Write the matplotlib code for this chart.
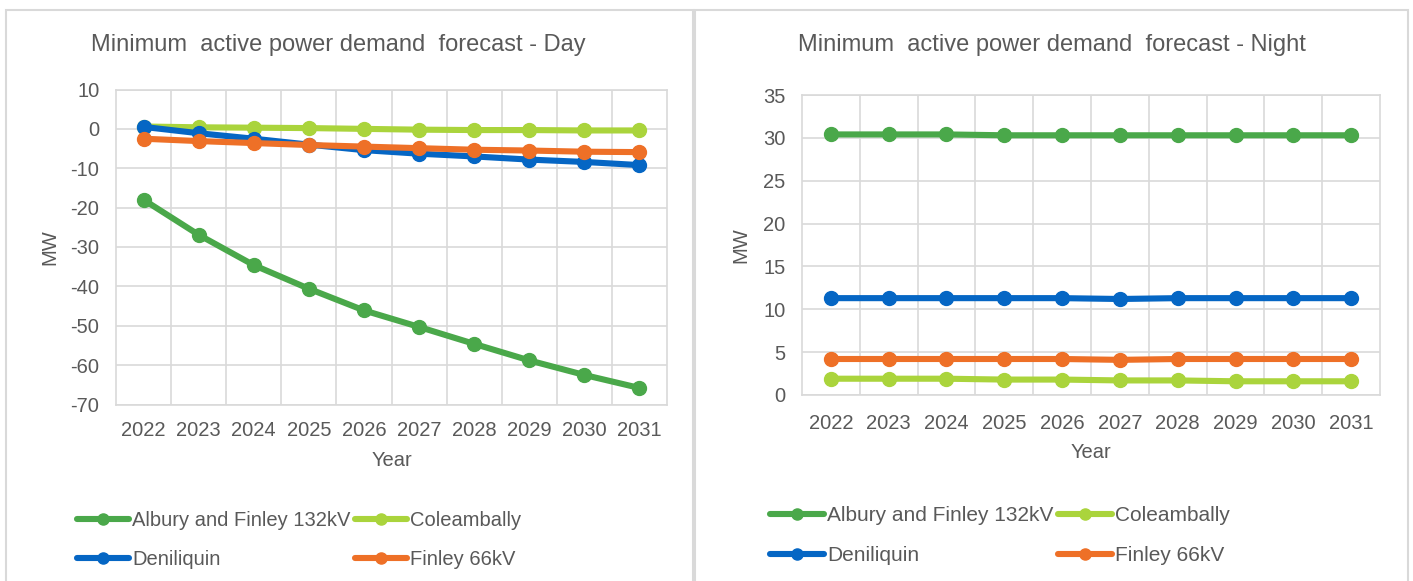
import matplotlib
matplotlib.use('Agg')
import matplotlib.pyplot as plt
from matplotlib.patches import Rectangle

plt.rcParams['font.family'] = ['Liberation Sans', 'DejaVu Sans']
plt.rcParams['axes.unicode_minus'] = False

W, H = 1413, 581
GREY_TEXT = '#595959'
GRID = '#D9D9D9'

years = ['2022', '2023', '2024', '2025', '2026', '2027', '2028', '2029', '2030', '2031']
names = ['Albury and Finley 132kV', 'Coleambally', 'Deniliquin', 'Finley 66kV']
colors = ['#4AA84A', '#AAD43C', '#0566C4', '#EE7027']

# day minimum demand (MW)
day_albury = [-18.0, -26.9, -34.6, -40.6, -46.1, -50.3, -54.6, -58.8, -62.5, -65.8]
day_coleambally = [0.6, 0.4, 0.3, 0.2, 0.0, -0.2, -0.3, -0.3, -0.4, -0.4]
day_deniliquin = [0.5, -1.1, -2.5, -4.0, -5.4, -6.3, -7.0, -7.8, -8.4, -9.2]
day_finley = [-2.5, -3.1, -3.6, -4.1, -4.5, -4.9, -5.3, -5.5, -5.8, -5.9]

# night minimum demand (MW)
night_albury = [30.4, 30.4, 30.4, 30.3, 30.3, 30.3, 30.3, 30.3, 30.3, 30.3]
night_coleambally = [1.9, 1.9, 1.9, 1.8, 1.8, 1.7, 1.7, 1.6, 1.6, 1.6]
night_deniliquin = [11.3, 11.3, 11.3, 11.3, 11.3, 11.2, 11.3, 11.3, 11.3, 11.3]
night_finley = [4.2, 4.2, 4.2, 4.2, 4.2, 4.1, 4.2, 4.2, 4.2, 4.2]


def fx(x):
    return x / W


def fy(y):
    return 1 - y / H


def draw_panel(fig, box, series, ylim, ystep, title, title_xy, mw_x, year_y,
               leg_xy, xpad, leg_size):
    left, top, right, bottom = box
    ax = fig.add_axes([fx(left), fy(bottom), fx(right) - fx(left), fy(top) - fy(bottom)])
    x = list(range(len(years)))
    handles = []
    for vals, name, c in zip(series, names, colors):
        h, = ax.plot(x, vals, color=c, lw=4.4, marker='o', ms=10,
                     solid_capstyle='round', label=name)
        handles.append(h)
    ax.set_xlim(-0.5, len(years) - 0.5)
    ax.set_ylim(*ylim)
    ax.set_yticks(range(ylim[0], ylim[1] + 1, ystep))
    ax.set_xticks(x)
    ax.set_xticklabels(years)
    ax.set_xticks([i + 0.5 for i in x[:-1]], minor=True)
    ax.grid(True, which='major', axis='y', color=GRID, lw=1.2)
    ax.grid(True, which='minor', axis='x', color=GRID, lw=1.2)
    ax.set_axisbelow(True)
    for s in ax.spines.values():
        s.set_color(GRID)
        s.set_linewidth(1.2)
    ax.tick_params(which='both', length=0, labelsize=14.5, colors=GREY_TEXT)
    ax.tick_params(axis='x', pad=xpad)
    ax.tick_params(axis='y', pad=12)

    fig.text(fx(title_xy[0]), fy(title_xy[1]), title, fontsize=17, color=GREY_TEXT,
             ha='center', va='center')
    fig.text(fx(mw_x), fy((top + bottom) / 2), 'MW', fontsize=14.5, color=GREY_TEXT,
             rotation=90, ha='center', va='center')
    fig.text(fx((left + right) / 2), fy(year_y), 'Year', fontsize=14.5, color=GREY_TEXT,
             ha='center', va='center')

    # column-wise fill: first column Albury/Deniliquin, second Coleambally/Finley
    order = [0, 2, 1, 3]
    fig.legend([handles[i] for i in order], [names[i] for i in order],
               loc='upper left', bbox_to_anchor=(fx(leg_xy[0]), fy(leg_xy[1])),
               ncol=2, frameon=False, fontsize=leg_size, handlelength=2.6,
               handletextpad=0.15, columnspacing=0.2, labelspacing=1.0,
               borderpad=0, borderaxespad=0, markerscale=0.8,
               labelcolor=GREY_TEXT)
    return ax


fig = plt.figure(figsize=(W / 100, H / 100), dpi=100)
fig.patch.set_facecolor('white')

# panel frames
fig.patches.append(Rectangle((fx(6), fy(620)), fx(693) - fx(6), fy(10) - fy(620),
                             transform=fig.transFigure, fill=False, ec=GRID, lw=1.5))
fig.patches.append(Rectangle((fx(695), fy(620)), fx(1408) - fx(695), fy(10) - fy(620),
                             transform=fig.transFigure, fill=False, ec=GRID, lw=1.5))

draw_panel(fig, (116, 89.5, 667, 404.5),
           [day_albury, day_coleambally, day_deniliquin, day_finley],
           (-70, 10), 10, 'Minimum  active power demand  forecast - Day',
           (338, 45), 50, 460, (77, 511), 12, 14.5)

draw_panel(fig, (802, 95, 1380, 395),
           [night_albury, night_coleambally, night_deniliquin, night_finley],
           (0, 35), 5, 'Minimum  active power demand  forecast - Night',
           (1052, 45), 741, 453, (770, 506), 14, 15)

fig.savefig('out.png', dpi=100)
